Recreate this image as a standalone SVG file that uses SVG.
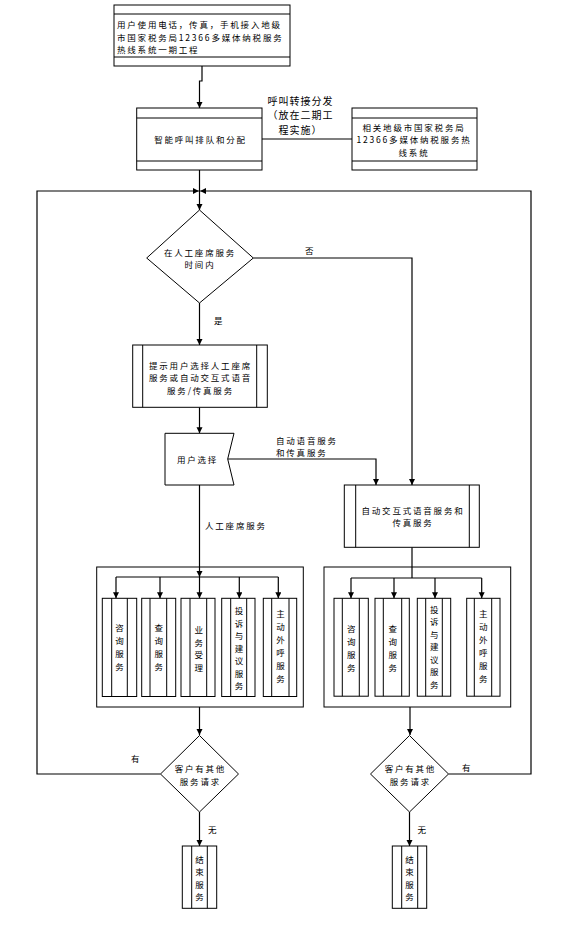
<svg xmlns="http://www.w3.org/2000/svg" width="567" height="935" viewBox="0 0 567 935">
<style>
.s{fill:#fff;stroke:#000;stroke-width:1}
.l{fill:none;stroke:#000;stroke-width:1}
.c{fill:none;stroke:#000;stroke-width:1.2;marker-end:url(#ah)}
.n{fill:none;stroke:#000;stroke-width:1.2}
text{font-family:'Noto Sans CJK SC','Noto Sans CJK JP','Liberation Sans',sans-serif;fill:#000;dominant-baseline:central}
.t{font-size:8.5px;letter-spacing:1.8px}
.m{text-anchor:middle}
.lb{font-size:10px;letter-spacing:1px}
</style>
<defs>
<marker id="ah" markerUnits="userSpaceOnUse" markerWidth="7" markerHeight="7" refX="6" refY="3" orient="auto">
<path d="M0,0 L6,3 L0,6 z" fill="#000"/>
</marker>
</defs>
<rect width="567" height="935" fill="#fff"/>

<g id="connectors">
<path class="c" d="M202,66 V81 H199.5 V108"/>
<path class="c" d="M199.5,170 V210"/>
<path class="n" d="M262,139 H352"/>
<path class="c" d="M253.3,258 H412 V485"/>
<path class="c" d="M199.5,303 V345"/>
<path class="c" d="M199.5,407.3 V433.3"/>
<path class="c" d="M227.7,459 H376 V485"/>
<path class="c" d="M199.5,485 V577"/>
<path class="n" d="M116,577 H278.3"/>
<path class="c" d="M116,577 V598.3"/>
<path class="c" d="M160,577 V598.3"/>
<path class="c" d="M199.5,577 V598.3"/>
<path class="c" d="M239.3,577 V598.3"/>
<path class="c" d="M278.3,577 V598.3"/>
<path class="n" d="M412,547.3 V578"/>
<path class="n" d="M351,578 H481.7"/>
<path class="c" d="M351,578 V598.3"/>
<path class="c" d="M394,578 V598.3"/>
<path class="c" d="M435,578 V598.3"/>
<path class="c" d="M481.7,578 V598.3"/>
<path class="c" d="M199.5,707 V735"/>
<path class="c" d="M410,707 V735"/>
<path class="c" d="M160.5,774 H37 V191 H198.8"/>
<path class="c" d="M448.5,774 H531 V191 H200.2"/>
<path class="c" d="M199.5,812 V846"/>
<path class="c" d="M409.5,812 V846"/>
</g>

<g id="edge-labels">
<text class="lb m" x="300.5" y="100">呼叫转接分发</text>
<text class="lb m" x="300.5" y="114.5">（放在二期工</text>
<text class="lb m" x="300.5" y="129">程实施）</text>
<text class="t" x="305" y="250">否</text>
<text class="t" x="214" y="320">是</text>
<text class="t" x="276" y="439.5">自动语音服务</text>
<text class="t" x="276" y="452">和传真服务</text>
<text class="t" x="205" y="525">人工座席服务</text>
<text class="t" x="131" y="758">有</text>
<text class="t" x="208" y="828.5">无</text>
<text class="t" x="462" y="767">有</text>
<text class="t" x="417.5" y="828.5">无</text>
</g>

<g id="n-start">
<rect class="s" x="114" y="5" width="176" height="61"/>
<path class="l" d="M114,14 H290 M114,57 H290"/>
<text class="t" x="117" y="24">用户使用电话，传真，手机接入地级</text>
<text class="t" x="117" y="36.5">市国家税务局12366多媒体纳税服务</text>
<text class="t" x="117" y="49">热线系统一期工程</text>
</g>

<g id="n-queue">
<rect class="s" x="136.7" y="108" width="125.3" height="62"/>
<path class="l" d="M136.7,118 H262 M136.7,161 H262"/>
<text class="t m" x="200.5" y="138.5">智能呼叫排队和分配</text>
</g>

<g id="n-other">
<rect class="s" x="352" y="108" width="125" height="62"/>
<path class="l" d="M352,118 H477 M352,161 H477"/>
<text class="t m" x="414" y="126.5">相关地级市国家税务局</text>
<text class="t m" x="414" y="139">12366多媒体纳税服务热</text>
<text class="t m" x="414" y="151.5">线系统</text>
</g>

<g id="n-time">
<polygon class="s" points="199.5,210 253.3,258 199.5,303 146.7,258"/>
<text class="t m" x="200" y="251.5">在人工座席服务</text>
<text class="t m" x="200" y="264">时间内</text>
</g>

<g id="n-prompt">
<rect class="s" x="132.7" y="345" width="134.6" height="62.3"/>
<path class="l" d="M142.7,345 V407.3 M256.7,345 V407.3"/>
<text class="t m" x="200.5" y="364.5">提示用户选择人工座席</text>
<text class="t m" x="200.5" y="377">服务或自动交互式语音</text>
<text class="t m" x="200.5" y="389.5">服务/传真服务</text>
</g>

<g id="n-choose">
<polygon class="s" points="165,433.3 234,433.3 227.7,459 234,485 165,485"/>
<text class="t m" x="197.5" y="459">用户选择</text>
</g>

<g id="n-auto">
<rect class="s" x="344.3" y="485" width="135" height="62.3"/>
<path class="l" d="M355.7,485 V547.3 M469.3,485 V547.3"/>
<text class="t m" x="413" y="509.5">自动交互式语音服务和</text>
<text class="t m" x="413" y="522">传真服务</text>
</g>

<g id="g-left">
<rect class="l" x="96.7" y="567" width="206.6" height="140"/>
</g>
<g id="g-right">
<rect class="l" x="324" y="567" width="186.7" height="140"/>
</g>

<g id="n-l1">
<rect class="s" x="102.3" y="598.3" width="34.4" height="98.2"/>
<path class="l" d="M111.7,598.3 V696.5 M127.3,598.3 V696.5"/>
<text class="t m"><tspan x="120.4" y="627">咨</tspan><tspan x="120.4" y="640">询</tspan><tspan x="120.4" y="653">服</tspan><tspan x="120.4" y="666">务</tspan></text>
</g>
<g id="n-l2">
<rect class="s" x="141.7" y="598.3" width="34" height="98.2"/>
<path class="l" d="M150,598.3 V696.5 M166.7,598.3 V696.5"/>
<text class="t m"><tspan x="159.6" y="627">查</tspan><tspan x="159.6" y="640">询</tspan><tspan x="159.6" y="653">服</tspan><tspan x="159.6" y="666">务</tspan></text>
</g>
<g id="n-l3">
<rect class="s" x="181" y="598.3" width="34" height="98.2"/>
<path class="l" d="M190,598.3 V696.5 M206.7,598.3 V696.5"/>
<text class="t m"><tspan x="199.6" y="629">业</tspan><tspan x="199.6" y="641.5">务</tspan><tspan x="199.6" y="654">受</tspan><tspan x="199.6" y="666.5">理</tspan></text>
</g>
<g id="n-l4">
<rect class="s" x="221.7" y="598.3" width="33.3" height="98.2"/>
<path class="l" d="M230.7,598.3 V696.5 M246.7,598.3 V696.5"/>
<text class="t m"><tspan x="239.9" y="610">投</tspan><tspan x="239.9" y="622.5">诉</tspan><tspan x="239.9" y="635">与</tspan><tspan x="239.9" y="647.5">建</tspan><tspan x="239.9" y="660">议</tspan><tspan x="239.9" y="672.5">服</tspan><tspan x="239.9" y="685">务</tspan></text>
</g>
<g id="n-l5">
<rect class="s" x="263.3" y="598.3" width="33.4" height="98.2"/>
<path class="l" d="M271.7,598.3 V696.5 M289,598.3 V696.5"/>
<text class="t m"><tspan x="281.4" y="613">主</tspan><tspan x="281.4" y="626">动</tspan><tspan x="281.4" y="639">外</tspan><tspan x="281.4" y="652">呼</tspan><tspan x="281.4" y="665">服</tspan><tspan x="281.4" y="678">务</tspan></text>
</g>

<g id="n-r1">
<rect class="s" x="334" y="598.3" width="34.3" height="97.9"/>
<path class="l" d="M342.3,598.3 V696.2 M359.3,598.3 V696.2"/>
<text class="t m"><tspan x="352.1" y="628">咨</tspan><tspan x="352.1" y="641">询</tspan><tspan x="352.1" y="654">服</tspan><tspan x="352.1" y="667">务</tspan></text>
</g>
<g id="n-r2">
<rect class="s" x="375" y="598.3" width="34.3" height="97.9"/>
<path class="l" d="M383.3,598.3 V696.2 M401.7,598.3 V696.2"/>
<text class="t m"><tspan x="393.7" y="628">查</tspan><tspan x="393.7" y="641">询</tspan><tspan x="393.7" y="654">服</tspan><tspan x="393.7" y="667">务</tspan></text>
</g>
<g id="n-r3">
<rect class="s" x="417.3" y="598.3" width="33.4" height="97.9"/>
<path class="l" d="M425.7,598.3 V696.2 M442.3,598.3 V696.2"/>
<text class="t m"><tspan x="435.2" y="608.5">投</tspan><tspan x="435.2" y="621">诉</tspan><tspan x="435.2" y="633.5">与</tspan><tspan x="435.2" y="646">建</tspan><tspan x="435.2" y="658.5">议</tspan><tspan x="435.2" y="671">服</tspan><tspan x="435.2" y="683.5">务</tspan></text>
</g>
<g id="n-r4">
<rect class="s" x="466.7" y="598.3" width="33.3" height="97.9"/>
<path class="l" d="M474.3,598.3 V696.2 M491.7,598.3 V696.2"/>
<text class="t m"><tspan x="484.1" y="613">主</tspan><tspan x="484.1" y="626">动</tspan><tspan x="484.1" y="639">外</tspan><tspan x="484.1" y="652">呼</tspan><tspan x="484.1" y="665">服</tspan><tspan x="484.1" y="678">务</tspan></text>
</g>

<g id="n-more-left">
<polygon class="s" points="199.5,735.5 238.5,774 199.5,812 160.5,774"/>
<text class="t m" x="200.4" y="768">客户有其他</text>
<text class="t m" x="200.4" y="780.5">服务请求</text>
</g>
<g id="n-more-right">
<polygon class="s" points="409.5,735.5 448.5,774 409.5,812 370.5,774"/>
<text class="t m" x="410.4" y="768">客户有其他</text>
<text class="t m" x="410.4" y="780.5">服务请求</text>
</g>

<g id="n-end-left">
<rect class="s" x="182.3" y="846" width="34.4" height="62.3"/>
<path class="l" d="M191.7,846 V908.3 M207.3,846 V908.3"/>
<text class="t m"><tspan x="200.4" y="858.5">结</tspan><tspan x="200.4" y="871">束</tspan><tspan x="200.4" y="883.5">服</tspan><tspan x="200.4" y="896">务</tspan></text>
</g>
<g id="n-end-right">
<rect class="s" x="392.3" y="846" width="34.4" height="62.3"/>
<path class="l" d="M401.7,846 V908.3 M417.7,846 V908.3"/>
<text class="t m"><tspan x="410.4" y="858.5">结</tspan><tspan x="410.4" y="871">束</tspan><tspan x="410.4" y="883.5">服</tspan><tspan x="410.4" y="896">务</tspan></text>
</g>
</svg>
